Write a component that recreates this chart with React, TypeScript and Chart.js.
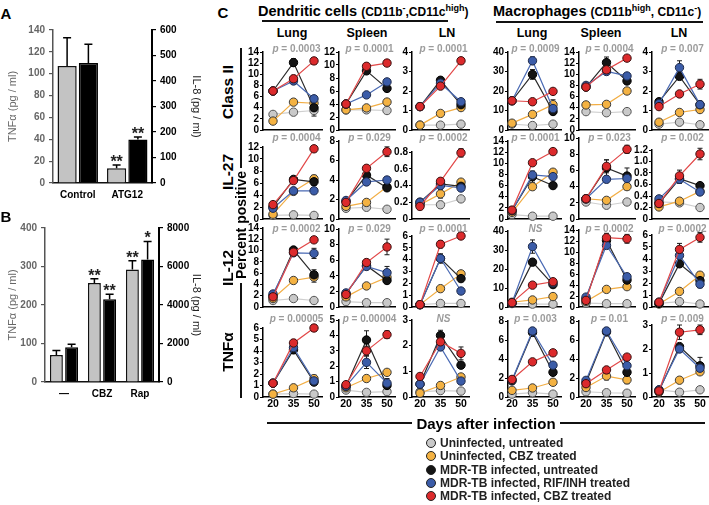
import React, { useEffect, useRef } from 'react';
import { Chart, registerables } from 'chart.js';

Chart.register(...registerables);

const FONT = '"Liberation Sans", Arial, Helvetica, sans-serif';
Chart.defaults.font.family = FONT;

/* ---------------- Panel A ---------------- */
const A_CATEGORIES = ['Control', 'ATG12'];
const A_TNF = [107, 13.5];
const A_TNF_ERR = [26, 3];
const A_TNF_STARS = ['', '**'];
const A_IL8 = [471, 171];
const A_IL8_ERR = [73, 9];
const A_IL8_STARS = ['', '**'];
const A_TNF_TICKS = [0, 20, 40, 60, 80, 100, 120, 140];
const A_IL8_TICKS = [0, 100, 200, 300, 400, 500, 600];

/* ---------------- Panel B ---------------- */
const B_CATEGORIES = ['—', 'CBZ', 'Rap'];
const B_TNF = [70, 257, 292];
const B_TNF_ERR = [12, 11, 23];
const B_TNF_STARS = ['', '**', '**'];
const B_IL8 = [1800, 4300, 6360];
const B_IL8_ERR = [160, 260, 940];
const B_IL8_STARS = ['', '**', '*'];
const B_TNF_TICKS = [0, 100, 200, 300, 400];
const B_IL8_TICKS = [0, 2000, 4000, 6000, 8000];

/* ---------------- Panel C ---------------- */
const DAYS = [20, 35, 50];
const GROUPS = [
  'Uninfected, untreated',
  'Uninfected, CBZ treated',
  'MDR-TB infected, untreated',
  'MDR-TB infected, RIF/INH treated',
  'MDR-TB infected, CBZ treated',
];
const MARKERS = ['Class II', 'IL-27', 'IL-12', 'TNFα'];
const TISSUES = ['Lung', 'Spleen', 'LN', 'Lung', 'Spleen', 'LN'];

// each array: rows = groups (in GROUPS order), cols = DAYS
const CLASSII_DC_LUNG = [[2.8, 3.2, 3.5], [1.6, 5.0, 4.8], [7.0, 12.1, 4.0], [7.0, 8.8, 5.6], [7.0, 9.2, 12.4]];
const CLASSII_DC_LUNG_ERR = [[0, 0, 1.0], [0, 0.5, 0.6], [0, 0.7, 0], [0, 0.3, 0.4], [0, 0.6, 0.6]];
const CLASSII_DC_SPLEEN = [[3.1, 3.1, 3.0], [3.1, 3.4, 4.3], [4.0, 9.1, 6.4], [4.0, 5.4, 7.4], [4.0, 9.8, 10.3]];
const CLASSII_DC_SPLEEN_ERR = [[0, 0, 0], [0, 0, 0], [0, 0.3, 0.5], [0, 0, 0], [0, 0.3, 0.4]];
const CLASSII_DC_LN = [[0.25, 0.25, 0.3], [0.25, 0.85, 1.15], [1.2, 2.55, 1.3], [1.2, 2.4, 1.45], [1.2, 2.25, 3.55]];
const CLASSII_DC_LN_ERR = [[0, 0, 0], [0, 0, 0], [0, 0.1, 0], [0, 0, 0], [0, 0.1, 0.15]];
const CLASSII_MAC_LUNG = [[3, 2.3, 3], [3.5, 8, 13], [15, 28.5, 9.5], [15, 35.5, 11], [15, 14.5, 19.8]];
const CLASSII_MAC_LUNG_ERR = [[0, 0, 0], [0, 0, 2.5], [0, 2.5, 0], [0, 2, 0], [0, 0, 0]];
const CLASSII_MAC_SPLEEN = [[3.3, 3.1, 3.3], [4.5, 4.6, 7.0], [7.7, 12.1, 8.8], [8.0, 10.5, 9.7], [7.7, 10.8, 12.9]];
const CLASSII_MAC_SPLEEN_ERR = [[0, 0, 0], [0.5, 0, 0], [0, 1.0, 0], [0, 0, 0], [0, 0.7, 0.4]];
const CLASSII_MAC_LN = [[0.3, 0.4, 0.27], [0.4, 0.9, 1.05], [1.45, 2.75, 1.3], [1.35, 3.2, 1.3], [1.2, 1.85, 2.35]];
const CLASSII_MAC_LN_ERR = [[0, 0, 0], [0, 0, 0.1], [0, 0.15, 0], [0, 0.35, 0.1], [0, 0, 0.25]];

const IL27_DC_LUNG = [[0.6, 0.7, 0.6], [0.8, 4.6, 6.7], [2.0, 6.6, 6.2], [1.8, 4.7, 4.7], [2.4, 6.4, 11.7]];
const IL27_DC_LUNG_ERR = [[0, 0, 0], [0, 0, 0.6], [0, 0.3, 0.6], [0, 0, 0], [0.3, 0, 0.5]];
const IL27_DC_SPLEEN = [[1.1, 1.2, 1.0], [1.3, 1.7, 3.3], [1.8, 4.5, 3.2], [1.9, 3.8, 4.0], [1.7, 5.2, 6.9]];
const IL27_DC_SPLEEN_ERR = [[0, 0, 0], [0, 0, 0.3], [0, 0, 0], [0, 0.3, 0.3], [0, 0, 0.5]];
const IL27_DC_LN = [[0.17, 0.17, 0.24], [0.17, 0.3, 0.44], [0.2, 0.42, 0.39], [0.2, 0.4, 0.37], [0.15, 0.45, 0.79]];
const IL27_DC_LN_ERR = [[0.04, 0.04, 0], [0, 0.05, 0], [0, 0, 0], [0, 0.04, 0], [0, 0, 0.05]];
const IL27_MAC_LUNG = [[0.8, 0.5, 0.5], [1.2, 5.8, 8.4], [1.5, 7.6, 6.0], [1.5, 7.9, 7.6], [1.6, 10.1, 12.1]];
const IL27_MAC_LUNG_ERR = [[0, 0, 0], [0, 0, 0.5], [0, 1.0, 0], [0, 0.5, 0.5], [0, 0, 0]];
const IL27_MAC_SPLEEN = [[2.1, 1.7, 2.1], [2.5, 2.3, 4.0], [2.5, 6.3, 5.3], [2.5, 4.9, 5.0], [2.5, 6.5, 8.6]];
const IL27_MAC_SPLEEN_ERR = [[0, 0, 0], [0, 0, 0.4], [0, 1.0, 1.0], [0, 0.4, 0.6], [0, 0.8, 0.5]];
const IL27_MAC_LN = [[0.3, 0.28, 0.2], [0.21, 0.31, 0.48], [0.27, 0.7, 0.58], [0.35, 0.69, 0.47], [0.27, 0.75, 1.13]];
const IL27_MAC_LN_ERR = [[0, 0, 0], [0, 0, 0], [0, 0.08, 0], [0.04, 0, 0], [0, 0.1, 0.1]];

const IL12_DC_LUNG = [[1.15, 1.5, 1.15], [1.5, 4.7, 5.3], [2.0, 10.1, 5.7], [2.3, 9.6, 9.5], [1.8, 9.7, 11.9]];
const IL12_DC_LUNG_ERR = [[0, 0, 0], [0, 0, 0.9], [0, 0.3, 0.9], [0, 0.5, 0.9], [0, 0, 0.4]];
const IL12_DC_SPLEEN = [[0.7, 0.55, 0.55], [1.3, 2.7, 3.8], [1.7, 5.3, 3.4], [1.8, 5.2, 4.4], [1.6, 5.7, 7.7]];
const IL12_DC_SPLEEN_ERR = [[0, 0, 0], [0, 0, 0], [0, 0, 0.3], [0, 0.3, 0.8], [0, 0, 1.0]];
const IL12_DC_LN = [[0.2, 0.3, 0.3], [0.2, 1.55, 2.8], [0.2, 4.1, 2.4], [0.2, 4.1, 1.35], [0.2, 5.3, 6.0]];
const IL12_DC_LN_ERR = [[0, 0, 0], [0, 0, 0], [0, 0, 0], [0, 0.4, 0], [0, 0.3, 0]];
const IL12_MAC_LUNG = [[1.8, 1.5, 1.5], [2.5, 3.7, 5.5], [2.2, 23.6, 11.8], [2.2, 31.8, 12.7], [2.3, 11.5, 13.3]];
const IL12_MAC_LUNG_ERR = [[0, 0, 0], [0, 0, 0], [0, 1.5, 1.0], [0, 3.5, 0], [0, 0, 1.0]];
const IL12_MAC_SPLEEN = [[0.7, 0.6, 0.6], [1.0, 3.2, 3.7], [1.5, 12.1, 4.9], [1.8, 11.2, 5.5], [1.2, 12.6, 12.4]];
const IL12_MAC_SPLEEN_ERR = [[0, 0, 0], [0, 0, 0], [0, 0, 0.5], [0, 0, 0.6], [0, 0.8, 0.8]];
const IL12_MAC_LN = [[0.3, 0.45, 0.25], [0.25, 1.3, 2.65], [0.3, 3.6, 2.2], [0.4, 4.3, 1.9], [0.4, 4.8, 5.8]];
const IL12_MAC_LN_ERR = [[0, 0, 0], [0, 0, 0.25], [0, 0.2, 0], [0, 0.2, 0.3], [0, 0.5, 0.4]];

const TNF_DC_LUNG = [[0.25, 0.3, 0.25], [0.25, 0.8, 1.6], [1.2, 4.1, 1.3], [1.2, 4.3, 1.4], [1.2, 4.7, 6.0]];
const TNF_DC_LUNG_ERR = [[0, 0, 0], [0, 0, 0.3], [0, 0.3, 0], [0, 0, 0.2], [0, 0.3, 0.3]];
const TNF_DC_SPLEEN = [[0.45, 0.3, 0.35], [0.6, 1.2, 1.6], [0.7, 3.7, 0.75], [0.7, 2.25, 0.9], [0.8, 3.0, 4.05]];
const TNF_DC_SPLEEN_ERR = [[0, 0, 0], [0, 0, 0.15], [0, 0.6, 0.2], [0, 0.4, 0.3], [0, 0.3, 0.25]];
const TNF_DC_LN = [[0.2, 0.25, 0.23], [0.15, 0.45, 0.78], [0.5, 2.4, 1.24], [0.5, 1.95, 0.62], [0.8, 2.15, 1.7]];
const TNF_DC_LN_ERR = [[0, 0, 0], [0, 0, 0], [0, 0.2, 0], [0, 0, 0], [0, 0, 0.25]];
const TNF_MAC_LUNG = [[0.3, 0.45, 0.3], [0.7, 0.95, 1.55], [1.7, 6.8, 2.6], [1.8, 6.95, 3.35], [1.85, 3.7, 4.65]];
const TNF_MAC_LUNG_ERR = [[0, 0, 0], [0, 0, 0.3], [0, 0, 0.3], [0, 0.3, 0], [0, 0, 0]];
const TNF_MAC_SPLEEN = [[0.55, 0.45, 0.4], [1.0, 2.2, 1.8], [1.5, 6.85, 2.6], [1.75, 6.95, 3.3], [1.4, 2.85, 4.2]];
const TNF_MAC_SPLEEN_ERR = [[0, 0, 0], [0, 0.4, 0.4], [0, 0, 0.3], [0, 0.3, 0], [0, 0, 0]];
const TNF_MAC_LN = [[0.3, 0.2, 0.3], [0.2, 0.7, 1.05], [0.25, 2.1, 1.3], [0.3, 2.0, 1.2], [0.25, 2.7, 2.8]];
const TNF_MAC_LN_ERR = [[0, 0, 0], [0, 0, 0], [0, 0, 0.35], [0, 0, 0], [0, 0.3, 0.2]];

// y tick label sets
const T14 = [0, 2, 4, 6, 8, 10, 12, 14];
const T12 = [0, 2, 4, 6, 8, 10, 12];
const T10 = [0, 2, 4, 6, 8, 10];
const T8 = [0, 2, 4, 6, 8];
const T40 = [0, 10, 20, 30, 40];
const T6 = [0, 1, 2, 3, 4, 5, 6];
const T5 = [0, 1, 2, 3, 4, 5];
const T4 = [0, 1, 2, 3, 4];
const T3 = [0, 1, 2, 3];
const T08 = [0, 0.2, 0.4, 0.6, 0.8];
const T12D = [0, 0.2, 0.4, 0.6, 0.8, 1.0, 1.2];

const P_CLASSII = ['0.0003', '0.0001', '0.0001', '0.0009', '0.0004', '0.007'];
const P_IL27 = ['0.0004', '0.029', '0.0002', '0.0001', '0.023', '0.002'];
const P_IL12 = ['0.0002', '0.029', '0.0001', 'NS', '0.0002', '0.0002'];
const P_TNF = ['0.00005', '0.00004', 'NS', '0.003', '0.01', '0.009'];

const GRID_VALUES = [
  [CLASSII_DC_LUNG, CLASSII_DC_SPLEEN, CLASSII_DC_LN, CLASSII_MAC_LUNG, CLASSII_MAC_SPLEEN, CLASSII_MAC_LN],
  [IL27_DC_LUNG, IL27_DC_SPLEEN, IL27_DC_LN, IL27_MAC_LUNG, IL27_MAC_SPLEEN, IL27_MAC_LN],
  [IL12_DC_LUNG, IL12_DC_SPLEEN, IL12_DC_LN, IL12_MAC_LUNG, IL12_MAC_SPLEEN, IL12_MAC_LN],
  [TNF_DC_LUNG, TNF_DC_SPLEEN, TNF_DC_LN, TNF_MAC_LUNG, TNF_MAC_SPLEEN, TNF_MAC_LN],
];
const GRID_ERRORS = [
  [CLASSII_DC_LUNG_ERR, CLASSII_DC_SPLEEN_ERR, CLASSII_DC_LN_ERR, CLASSII_MAC_LUNG_ERR, CLASSII_MAC_SPLEEN_ERR, CLASSII_MAC_LN_ERR],
  [IL27_DC_LUNG_ERR, IL27_DC_SPLEEN_ERR, IL27_DC_LN_ERR, IL27_MAC_LUNG_ERR, IL27_MAC_SPLEEN_ERR, IL27_MAC_LN_ERR],
  [IL12_DC_LUNG_ERR, IL12_DC_SPLEEN_ERR, IL12_DC_LN_ERR, IL12_MAC_LUNG_ERR, IL12_MAC_SPLEEN_ERR, IL12_MAC_LN_ERR],
  [TNF_DC_LUNG_ERR, TNF_DC_SPLEEN_ERR, TNF_DC_LN_ERR, TNF_MAC_LUNG_ERR, TNF_MAC_SPLEEN_ERR, TNF_MAC_LN_ERR],
];
const GRID_TICKS = [
  [T14, T12, T4, T40, T14, T4],
  [T12, T8, T08, T14, T10, T12D],
  [T14, T10, T6, T40, T14, T6],
  [T6, T5, T3, T8, T8, T3],
];
const GRID_P = [P_CLASSII, P_IL27, P_IL12, P_TNF];

/* ---------------- styles / layout ---------------- */
const FILLS = ['#c9c9c9', '#f4b242', '#141414', '#3b5ca8', '#dc2a2c'];
const LINES = ['#cfcfcf', '#f2ae45', '#2a2a2a', '#4a6ab4', '#e24848'];
const POINT_BORDERS = ['#555', '#3a3a3a', '#000', '#1e2a4a', '#3a1010'];

const COL_AXIS_X = [263, 339, 412, 508, 579, 652];
const COL_X20 = [273, 346, 420, 512, 586, 659];
const ROW_BOTTOM = [130, 219, 307, 397];
const CELL_TOP = [
  [52, 52, 52, 52, 52, 52],
  [147, 141, 152, 141, 138, 150],
  [228, 229, 236, 231, 230, 235],
  [328, 320, 320, 321, 321, 325],
];
const P_Y = [49, 138, 229, 319];
const K = 41 / 30;
const YW = 22;
const PT = 7;
const PR = 4;

/* ---------------- plugins ---------------- */
const pointErrorPlugin = {
  id: 'pointErrors',
  beforeDatasetsDraw(chart: any) {
    const ctx = chart.ctx;
    const ys = chart.scales.y;
    ctx.save();
    ctx.strokeStyle = '#1a1a1a';
    ctx.lineWidth = 1;
    chart.data.datasets.forEach((ds: any, di: number) => {
      const errs = ds.errors || [];
      const meta = chart.getDatasetMeta(di);
      meta.data.forEach((pt: any, i: number) => {
        const e = errs[i];
        if (!e) return;
        const v = ds.data[i].y;
        const yt = ys.getPixelForValue(v + e);
        const yb = ys.getPixelForValue(Math.max(0, v - e));
        const x = pt.x;
        ctx.beginPath();
        ctx.moveTo(x, yt);
        ctx.lineTo(x, yb);
        ctx.moveTo(x - 2.5, yt);
        ctx.lineTo(x + 2.5, yt);
        ctx.moveTo(x - 2.5, yb);
        ctx.lineTo(x + 2.5, yb);
        ctx.stroke();
      });
    });
    ctx.restore();
  },
};

const barErrorPlugin = {
  id: 'barErrors',
  afterDatasetsDraw(chart: any) {
    const ctx = chart.ctx;
    ctx.save();
    chart.data.datasets.forEach((ds: any, di: number) => {
      const meta = chart.getDatasetMeta(di);
      const scale = chart.scales[ds.yAxisID];
      meta.data.forEach((bar: any, i: number) => {
        const v = ds.data[i];
        const e = ds.errors[i];
        const yTop = scale.getPixelForValue(v + e);
        ctx.strokeStyle = '#000';
        ctx.lineWidth = 1.5;
        ctx.beginPath();
        ctx.moveTo(bar.x, bar.y);
        ctx.lineTo(bar.x, yTop);
        ctx.moveTo(bar.x - 4, yTop);
        ctx.lineTo(bar.x + 4, yTop);
        ctx.stroke();
        const s = ds.stars[i];
        if (s) {
          ctx.fillStyle = '#222';
          ctx.font = `bold 16px ${FONT}`;
          ctx.textAlign = 'center';
          ctx.textBaseline = 'alphabetic';
          ctx.fillText(s, bar.x, yTop + 2);
        }
      });
    });
    ctx.restore();
  },
};

/* ---------------- helpers ---------------- */
function ChartCanvas({ left, top, width, height, make }: { left: number; top: number; width: number; height: number; make: () => any }) {
  const ref = useRef<HTMLCanvasElement | null>(null);
  useEffect(() => {
    if (!ref.current) return;
    const chart = new Chart(ref.current, make());
    return () => chart.destroy();
  }, []);
  return (
    <canvas
      ref={ref}
      width={width}
      height={height}
      style={{ position: 'absolute', left, top, width, height }}
    />
  );
}

function Txt({ x, y, size, children, color = '#000', weight = 700, rotate = 0, align = 'center', italic = false }: any) {
  const tx = align === 'center' ? '-50%' : align === 'left' ? '0%' : '-100%';
  return (
    <div
      style={{
        position: 'absolute',
        left: x,
        top: y,
        transform: `translate(${tx}, -50%) rotate(${rotate}deg)`,
        fontSize: size,
        fontWeight: weight,
        fontStyle: italic ? 'italic' : 'normal',
        color,
        whiteSpace: 'nowrap',
        lineHeight: 1,
        fontFamily: FONT,
      }}
    >
      {children}
    </div>
  );
}

function Rule({ x, y, w, h }: { x: number; y: number; w: number; h: number }) {
  return <div style={{ position: 'absolute', left: x, top: y, width: w, height: h, background: '#111' }} />;
}

function fmtTick(v: number, ticks: number[]) {
  if (v === 0) return '0';
  const dec = ticks.some((t) => !Number.isInteger(t));
  return dec ? v.toFixed(1) : String(v);
}

/* ---------------- bar panels ---------------- */
function barMaker(opts: any) {
  return () => ({
    type: 'bar',
    data: {
      labels: opts.cats,
      datasets: [
        {
          label: 'TNFα',
          data: opts.tnf,
          errors: opts.tnfErr,
          stars: opts.tnfStars,
          yAxisID: 'y',
          backgroundColor: '#c3c3c3',
          borderColor: '#111',
          borderWidth: 1.5,
          categoryPercentage: opts.catPct,
          barPercentage: opts.barPct,
        },
        {
          label: 'IL-8',
          data: opts.il8,
          errors: opts.il8Err,
          stars: opts.il8Stars,
          yAxisID: 'y1',
          backgroundColor: '#000',
          borderColor: '#000',
          borderWidth: 1.5,
          categoryPercentage: opts.catPct,
          barPercentage: opts.barPct,
        },
      ],
    },
    options: {
      responsive: false,
      animation: false,
      layout: { padding: { top: opts.padTop, left: 0, right: 0, bottom: 0 }, autoPadding: false },
      plugins: { legend: { display: false }, tooltip: { enabled: false } },
      scales: {
        x: {
          type: 'category',
          afterFit: (s: any) => { s.height = opts.xh; },
          grid: { display: false, drawTicks: false },
          border: { display: true, color: '#111', width: 1.5 },
          ticks: { color: '#000', padding: 6, font: { family: FONT, size: 10, weight: 'bold' } },
        },
        y: {
          position: 'left',
          min: 0,
          max: opts.tnfTicks[opts.tnfTicks.length - 1],
          afterBuildTicks: (s: any) => { s.ticks = opts.tnfTicks.map((v: number) => ({ value: v })); },
          afterFit: (s: any) => { s.width = opts.lw; },
          grid: { display: true, drawOnChartArea: false, drawTicks: true, tickLength: 4, color: '#555', lineWidth: 1.2 },
          border: { display: true, color: '#555', width: 1.5 },
          ticks: { color: '#666', padding: 4, autoSkip: false, font: { family: FONT, size: 10, weight: 'bold' }, callback: (v: number) => String(v) },
          title: { display: true, text: 'TNFα (pg / ml)', color: '#666', font: { family: FONT, size: 11 }, padding: { top: opts.lTitlePad, bottom: 0 } },
        },
        y1: {
          position: 'right',
          min: 0,
          max: opts.il8Ticks[opts.il8Ticks.length - 1],
          afterBuildTicks: (s: any) => { s.ticks = opts.il8Ticks.map((v: number) => ({ value: v })); },
          afterFit: (s: any) => { s.width = opts.rw; },
          grid: { display: true, drawOnChartArea: false, drawTicks: true, tickLength: 4, color: '#000', lineWidth: 1.2 },
          border: { display: true, color: '#000', width: 2 },
          ticks: { color: '#000', padding: 4, autoSkip: false, font: { family: FONT, size: 10, weight: 'bold' }, callback: (v: number) => String(v) },
          title: { display: true, text: 'IL-8 (pg / ml)', color: '#222', font: { family: FONT, size: 11 }, padding: { top: opts.rTitlePad, bottom: 0 } },
        },
      },
    },
    plugins: [barErrorPlugin],
  });
}

/* ---------------- line subplots ---------------- */
function cellMaker(row: number, col: number) {
  const values = GRID_VALUES[row][col];
  const errors = GRID_ERRORS[row][col];
  const ticks = GRID_TICKS[row][col];
  const isBottom = row === 3;
  const axisX = COL_AXIS_X[col];
  const x20 = COL_X20[col];
  const xmin = 20 - (x20 - axisX) / K;
  const xmax = 50 + 8 / K;
  const xb = isBottom ? 20 : 8;
  return () => ({
    type: 'line',
    data: {
      datasets: GROUPS.map((name, s) => ({
        label: name,
        data: DAYS.map((d, i) => ({ x: d, y: values[s][i] })),
        errors: errors[s],
        borderColor: LINES[s],
        backgroundColor: FILLS[s],
        pointBackgroundColor: FILLS[s],
        pointBorderColor: POINT_BORDERS[s],
        pointBorderWidth: 1,
        pointRadius: 4.2,
        pointHoverRadius: 4.2,
        borderWidth: 1.2,
        tension: 0,
        order: 4 - s,
        clip: false,
      })),
    },
    options: {
      responsive: false,
      animation: false,
      layout: { padding: { top: PT, right: PR, bottom: 0, left: 0 }, autoPadding: false },
      plugins: { legend: { display: false }, tooltip: { enabled: false } },
      scales: {
        x: {
          type: 'linear',
          min: xmin,
          max: xmax,
          afterBuildTicks: (s: any) => { s.ticks = DAYS.map((v) => ({ value: v })); },
          afterFit: (s: any) => { s.height = xb; },
          grid: { display: false, drawTicks: false },
          border: { display: true, color: '#000', width: 1.5 },
          ticks: {
            display: isBottom,
            autoSkip: false,
            maxRotation: 0,
            padding: 1,
            color: '#000',
            font: { family: FONT, size: 10.5, weight: 'bold' },
            callback: (v: number) => String(v),
          },
        },
        y: {
          type: 'linear',
          min: 0,
          max: ticks[ticks.length - 1],
          afterBuildTicks: (s: any) => { s.ticks = ticks.map((v) => ({ value: v })); },
          afterFit: (s: any) => { s.width = YW; },
          grid: { display: true, drawOnChartArea: false, drawTicks: true, tickLength: 3, color: '#000', lineWidth: 1 },
          border: { display: true, color: '#000', width: 1.5 },
          ticks: {
            autoSkip: false,
            padding: 1,
            color: '#000',
            font: { family: FONT, size: 10, weight: 'bold' },
            callback: (v: number) => fmtTick(v, ticks),
          },
        },
      },
    },
    plugins: [pointErrorPlugin],
  });
}

function Cell({ row, col }: { row: number; col: number }) {
  const axisX = COL_AXIS_X[col];
  const x20 = COL_X20[col];
  const plotTop = CELL_TOP[row][col];
  const bottom = ROW_BOTTOM[row];
  const xb = row === 3 ? 20 : 8;
  const plotW = x20 + 41 + 8 - axisX;
  const left = axisX - YW;
  const width = YW + plotW + PR;
  const top = plotTop - PT;
  const height = PT + (bottom - plotTop) + xb;
  const p = GRID_P[row][col];
  return (
    <>
      <ChartCanvas left={left} top={top} width={width} height={height} make={cellMaker(row, col)} />
      <Txt x={x20 + 23.5} y={P_Y[row]} size={10} color="#9c9c9c">
        {p === 'NS' ? <i>NS</i> : (<><i>p</i> = {p}</>)}
      </Txt>
    </>
  );
}

/* ---------------- App ---------------- */
export default function App() {
  const legendY = [443, 456.3, 469.6, 482.9, 496.2];
  const colTitleX = [292, 367, 447, 532, 601, 679];
  const rowLabelY = [92, 172, 268, 352];
  return (
    <div
      style={{
        position: 'absolute',
        left: 0,
        top: 0,
        width: 709,
        height: 505,
        background: '#fff',
        overflow: 'hidden',
        fontFamily: FONT,
      }}
    >
      {/* Panel A */}
      <Txt x={6} y={13} size={15}>A</Txt>
      <ChartCanvas
        left={0}
        top={20}
        width={205}
        height={190}
        make={barMaker({
          cats: A_CATEGORIES, tnf: A_TNF, tnfErr: A_TNF_ERR, tnfStars: A_TNF_STARS,
          il8: A_IL8, il8Err: A_IL8_ERR, il8Stars: A_IL8_STARS,
          tnfTicks: A_TNF_TICKS, il8Ticks: A_IL8_TICKS,
          padTop: 9, xh: 27, lw: 53, rw: 53, catPct: 0.86, barPct: 0.9, lTitlePad: 6, rTitlePad: 2,
        })}
      />

      {/* Panel B */}
      <Txt x={6} y={216} size={15}>B</Txt>
      <ChartCanvas
        left={0}
        top={215}
        width={205}
        height={192}
        make={barMaker({
          cats: B_CATEGORIES, tnf: B_TNF, tnfErr: B_TNF_ERR, tnfStars: B_TNF_STARS,
          il8: B_IL8, il8Err: B_IL8_ERR, il8Stars: B_IL8_STARS,
          tnfTicks: B_TNF_TICKS, il8Ticks: B_IL8_TICKS,
          padTop: 13, xh: 25, lw: 45, rw: 46, catPct: 0.8, barPct: 0.85, lTitlePad: 6, rTitlePad: 2,
        })}
      />

      {/* Panel C headers */}
      <Txt x={223} y={12} size={15}>C</Txt>
      <Txt x={258} y={11} size={14.5} align="left">
        Dendritic cells{' '}
        <span style={{ fontSize: 12 }}>
          (CD11b<span style={{ fontSize: 9, position: 'relative', top: -5 }}>-</span>,CD11c
          <span style={{ fontSize: 9, position: 'relative', top: -5 }}>high</span>)
        </span>
      </Txt>
      <Rule x={262} y={20} w={186} h={2} />
      <Txt x={493} y={11} size={14.5} align="left">
        Macrophages{' '}
        <span style={{ fontSize: 12 }}>
          (CD11b<span style={{ fontSize: 9, position: 'relative', top: -5 }}>high</span>, CD11c
          <span style={{ fontSize: 9, position: 'relative', top: -5 }}>-</span>)
        </span>
      </Txt>
      <Rule x={496} y={21} w={207} h={2} />
      {TISSUES.map((t, i) => (
        <Txt key={'t' + i} x={colTitleX[i]} y={33} size={12.5}>{t}</Txt>
      ))}

      {/* Row labels */}
      {MARKERS.map((m, i) => (
        <Txt key={'m' + i} x={228} y={rowLabelY[i]} size={15.5} rotate={-90}>{m}</Txt>
      ))}
      <Txt x={241} y={225} size={14} rotate={-90}>Percent positive</Txt>
      <Rule x={240} y={48} w={2} h={120} />
      <Rule x={240} y={283} w={2} h={115} />

      {/* Grid of subplots */}
      {GRID_VALUES.map((r, ri) =>
        r.map((_, ci) => <Cell key={`c${ri}-${ci}`} row={ri} col={ci} />)
      )}

      {/* X label */}
      <Rule x={267} y={422} w={145} h={2} />
      <Rule x={560} y={422} w={145} h={2} />
      <Txt x={486} y={423} size={15}>Days after infection</Txt>

      {/* Legend */}
      {GROUPS.map((g, i) => (
        <React.Fragment key={'l' + i}>
          <div
            style={{
              position: 'absolute',
              left: 431 - 5,
              top: legendY[i] - 5,
              width: 10,
              height: 10,
              boxSizing: 'border-box',
              borderRadius: '50%',
              border: '1.5px solid #222',
              background: FILLS[i],
            }}
          />
          <Txt x={440} y={legendY[i]} size={12} align="left" color="#222">{g}</Txt>
        </React.Fragment>
      ))}
    </div>
  );
}
